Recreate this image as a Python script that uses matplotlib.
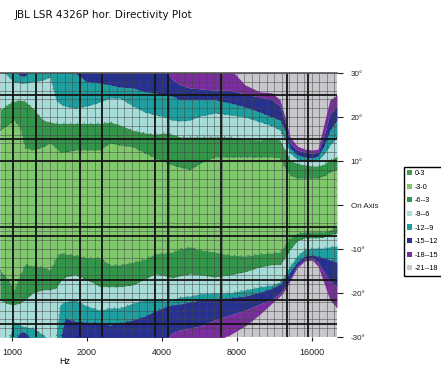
import numpy as np
import matplotlib.pyplot as plt
from matplotlib.patches import Patch

plt.rcParams['font.family'] = ['Liberation Sans', 'DejaVu Sans']

# frequency points (Hz) where the contour boundaries were read
freqs = [895, 964, 1019, 1077, 1128, 1214, 1332, 1421, 1502, 1558, 1632, 1790,
         2000, 2255, 2474, 2713, 3060, 3418, 3749, 4112, 4387, 4724, 5182, 5684,
         6528, 7499, 8614, 9895, 11055, 11903, 12466, 13055, 13929, 14997, 16000,
         16912, 17877, 18893, 20160]

# upper side boundaries (degrees) for -3, -6, -9, -12, -15, -18 dB
up3 = [17.0, 18.2, 19.3, 17.5, 13.0, 12.5, 13.2, 14.1, 13.0, 12.0, 12.0, 12.5,
       12.5, 12.5, 14.1, 13.6, 13.2, 11.8, 10.7, 9.8, 9.1, 8.6, 8.0, 9.5,
       10.9, 10.9, 10.9, 10.9, 10.9, 10.7, 8.4, 6.8, 6.1, 6.1, 6.1,
       6.1, 6.6, 7.5, 8.0]
up6 = [21.6, 23.0, 23.6, 23.9, 23.6, 22.0, 19.3, 18.9, 18.6, 18.6, 18.6, 18.6,
       18.6, 18.6, 18.9, 18.2, 17.0, 16.4, 16.1, 16.4, 16.1, 15.5, 15.5, 15.5,
       15.5, 15.5, 15.0, 14.8, 15.2, 14.8, 12.5, 10.2, 9.5, 9.1, 8.9,
       8.9, 9.3, 10.2, 11.1]
up9 = [31, 29.3, 28.0, 27.7, 27.7, 28.0, 28.4, 29.1, 23.9, 23.0, 22.5, 22.0,
       22.5, 23.4, 24.3, 24.3, 22.5, 21.1, 20.5, 20.0, 19.3, 19.1, 19.3, 20.2,
       20.9, 20.5, 20.0, 18.9, 18.0, 17.0, 14.8, 11.8, 10.5, 10.0, 9.8,
       10.2, 11.6, 13.6, 15.5]
up12 = [31, 31, 31, 29.3, 29.3, 31, 31, 31, 31, 31, 31, 30.0,
        28.0, 27.7, 27.3, 26.8, 26.6, 25.7, 25.5, 25.0, 24.8, 23.9, 23.9, 23.9,
        23.9, 23.2, 22.3, 21.1, 20.0, 19.3, 17.0, 13.0, 11.4, 10.9, 10.7,
        11.1, 13.4, 17.0, 19.3]
up15 = [31, 31, 31, 31, 31, 31, 31, 31, 31, 31, 31, 31,
        31, 31, 31, 31, 31, 31, 31, 31, 28.6, 27.3, 26.6, 26.4,
        26.1, 26.1, 25.2, 24.5, 23.9, 22.5, 18.9, 14.1, 12.5, 12.0, 11.8,
        12.0, 15.7, 20.7, 22.5]
up18 = [31, 31, 31, 31, 31, 31, 31, 31, 31, 31, 31, 31,
        31, 31, 31, 31, 31, 31, 31, 31, 31, 31, 31, 31,
        31, 31, 27.3, 25.7, 25.5, 23.9, 20.0, 15.5, 13.4, 12.7, 12.5,
        12.7, 18.4, 23.9, 25.0]

# lower side boundaries (degrees)
lo3 = [-14.8, -17.0, -19.3, -15.9, -13.4, -13.9, -14.1, -14.8, -12.0, -10.9, -11.1, -11.4,
       -12.0, -12.0, -13.6, -13.6, -13.0, -12.3, -11.1, -10.9, -10.7, -10.0, -9.5, -10.2,
       -10.7, -11.4, -11.6, -11.1, -10.9, -10.7, -9.1, -7.5, -6.4, -6.1, -6.1,
       -6.1, -6.1, -5.7, -5.0]
lo6 = [-21.6, -22.5, -22.7, -22.3, -21.6, -20.0, -19.3, -19.3, -18.9, -17.5, -16.4, -15.9,
       -17.0, -18.6, -18.6, -18.6, -18.2, -16.8, -15.7, -16.1, -16.6, -16.1, -15.7, -15.9,
       -16.4, -15.9, -15.2, -14.1, -13.6, -13.6, -12.0, -10.2, -8.2, -7.5, -7.5,
       -7.5, -7.3, -6.8, -6.4]
lo9 = [-31, -31, -26.6, -27.3, -27.7, -28.0, -29.5, -31, -31, -22.7, -22.0, -21.6,
       -23.0, -23.9, -23.4, -23.4, -22.3, -21.6, -21.4, -21.8, -21.6, -20.9, -20.7, -20.2,
       -20.0, -20.0, -19.3, -18.6, -18.2, -17.5, -15.9, -13.9, -11.6, -10.0, -9.8,
       -9.8, -9.8, -9.5, -9.3]
lo12 = [-31, -31, -31, -28.9, -28.9, -31, -31, -31, -31, -31, -25.7, -26.4,
        -26.6, -26.8, -27.3, -26.8, -26.1, -25.2, -24.1, -23.2, -22.7, -22.5, -22.0, -21.6,
        -21.6, -21.1, -20.7, -19.8, -18.9, -18.0, -16.6, -15.2, -13.0, -11.6, -11.4,
        -11.6, -12.0, -12.5, -13.0]
lo15 = [-31, -31, -31, -31, -31, -31, -31, -31, -31, -31, -31, -31,
        -31, -31, -31, -31, -31, -31, -31, -31, -29.1, -28.4, -28.0, -27.5,
        -26.1, -25.0, -23.9, -22.5, -21.4, -20.0, -18.6, -16.8, -13.9, -12.3, -12.0,
        -13.0, -15.2, -17.3, -18.6]
lo18 = [-31, -31, -31, -31, -31, -31, -31, -31, -31, -31, -31, -31,
        -31, -31, -31, -31, -31, -31, -31, -31, -31, -31, -31, -31,
        -31, -29.5, -27.5, -24.8, -22.3, -20.7, -19.3, -17.3, -14.3, -12.7, -12.5,
        -13.9, -17.7, -21.6, -23.4]

legend_labels = ["0-3", "-3-0", "-6--3", "-9--6", "-12--9", "-15--12", "-18--15", "-21--18"]
legend_colors = ["#4aa04a", "#80c86c", "#33954a", "#a8dcd8", "#1e9e9e", "#26308e", "#7a2e9e", "#c8c8cc"]

angle_ticks = [30, 20, 10, 0, -10, -20, -30]
angle_labels = ["30°", "20°", "10°", "On Axis", "-10°", "-20°", "-30°"]
freq_ticks = [1000, 2000, 4000, 8000, 16000]
freq_labels = ["1000", "2000", "4000", "8000", "16000"]

thick_freqs = [1009, 1248, 1875, 2297, 3749, 4228, 6900, 12700, 15420]
thick_angles = [25, 15, 10, -5, -7, -17, -21.6, -27]

fig = plt.figure(figsize=(4.41, 3.65), dpi=100)
ax = fig.add_axes([0, 28 / 365, 337 / 441, 264 / 365])
ax.set_facecolor(legend_colors[7])
ax.set_xscale('log')

c_lg, c_dg, c_cy, c_te, c_bl, c_pu = legend_colors[1:7]
ax.fill_between(freqs, lo3, up3, color=c_lg, lw=0)
for lo_in, lo_out, hi_in, hi_out, col in [
        (lo3, lo6, up3, up6, c_dg), (lo6, lo9, up6, up9, c_cy),
        (lo9, lo12, up9, up12, c_te), (lo12, lo15, up12, up15, c_bl),
        (lo15, lo18, up15, up18, c_pu)]:
    ax.fill_between(freqs, hi_in, hi_out, color=col, lw=0)
    ax.fill_between(freqs, lo_out, lo_in, color=col, lw=0)

for b in [up3, up6, up9, up12, lo3, lo6, lo9, lo12]:
    ax.plot(freqs, b, color='k', lw=0.7, ls=(0, (1, 6)), alpha=0.6)

# grid
for f in 1000 * 2 ** (np.arange(-2, 45) / 10):
    ax.axvline(f, color='#444444', lw=0.7, alpha=0.5)
for a in np.arange(-30, 31, 2):
    ax.axhline(a, color='#444444', lw=0.7, alpha=0.5)
for f in thick_freqs:
    ax.axvline(f, color='#151515', lw=1.3)
for a in thick_angles:
    ax.axhline(a, color='#151515', lw=1.3)

ax.set_xlim(895, 20160)
ax.set_ylim(-30, 30)

ax.yaxis.tick_right()
ax.set_yticks(angle_ticks)
ax.set_yticklabels(angle_labels)
ax.set_xticks(freq_ticks)
ax.set_xticklabels(freq_labels)
ax.xaxis.set_minor_locator(plt.NullLocator())
ax.tick_params(axis='y', labelsize=5.8, length=4, pad=6, colors='#222222')
ax.tick_params(axis='x', labelsize=6.5, length=3, pad=5, colors='#222222')

for s in ['left', 'bottom', 'right']:
    ax.spines[s].set_visible(False)
ax.spines['top'].set_color('#555555')
ax.spines['top'].set_linewidth(1.2)

fig.text(15 / 441, 1 - 15 / 365, "JBL LSR 4326P hor. Directivity Plot",
         fontsize=7.5, family='DejaVu Sans', ha='left', va='center', color='#111111')
fig.text(65 / 441, 1 - 361 / 365, "Hz", fontsize=6.5, ha='center', va='center')

handles = [Patch(facecolor=c, edgecolor='none') for c in legend_colors]
fig.legend(handles, legend_labels, loc='upper left',
           bbox_to_anchor=(400 / 441, 1 - 163 / 365), fontsize=5.2,
           handlelength=0.7, handleheight=0.7, handletextpad=0.4,
           labelspacing=0.9, borderpad=0.5, fancybox=False,
           edgecolor='black', framealpha=1)

fig.savefig('out.png', dpi=100)
